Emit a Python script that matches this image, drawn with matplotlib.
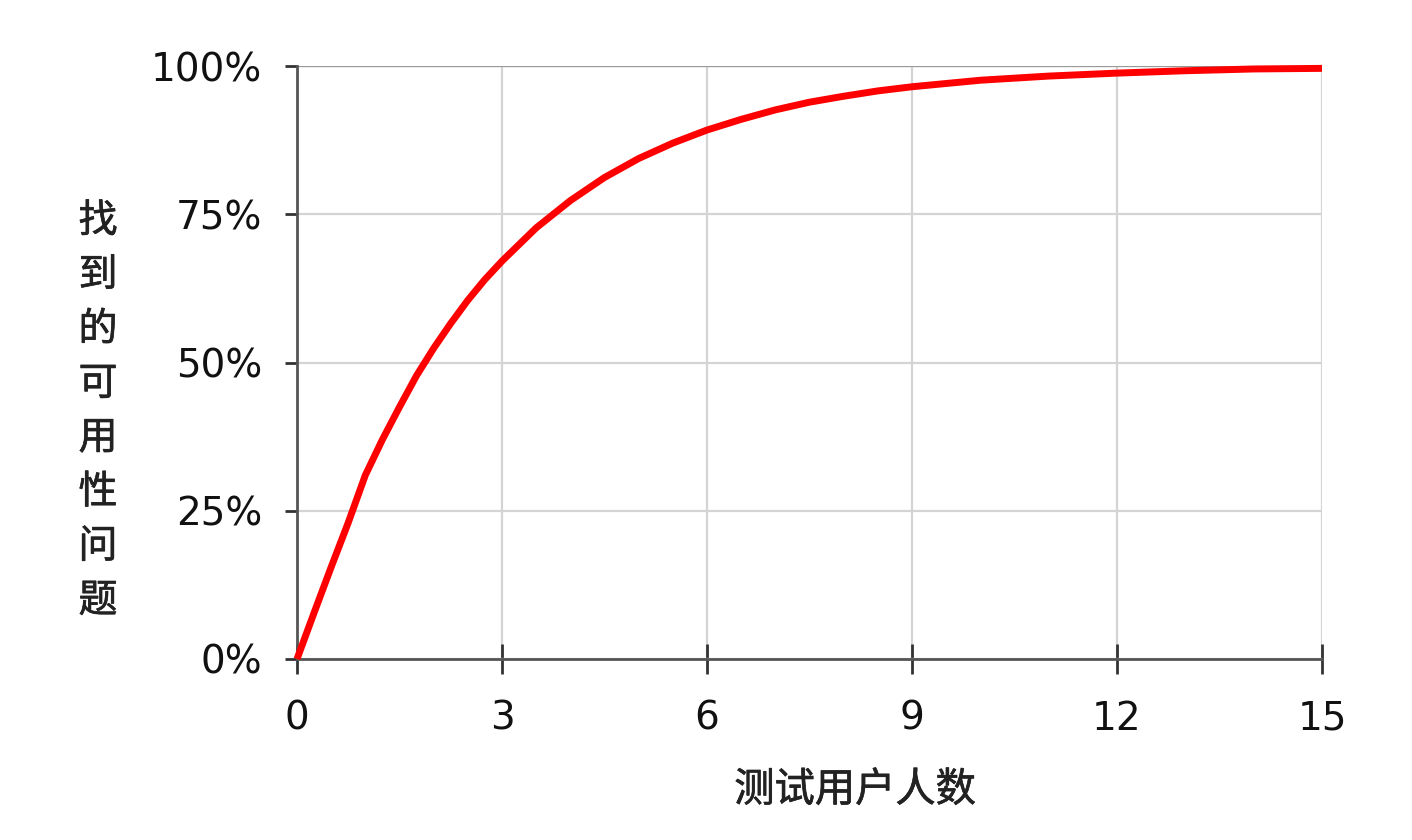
import matplotlib
matplotlib.use('Agg')
import matplotlib.pyplot as plt
import matplotlib.patheffects as pe

plt.rcParams['font.family'] = ['DejaVu Sans', 'Noto Sans CJK SC']

# 测试用户人数 vs 找到的可用性问题比例
users = [0, 0.25, 0.5, 0.75, 1, 1.25, 1.5, 1.75, 2, 2.25, 2.5, 2.75, 3, 3.5, 4, 4.5,
         5, 5.5, 6, 6.5, 7, 7.5, 8, 8.5, 9, 10, 11, 12, 13, 14, 15]
found = [0, 7.8, 15.5, 23, 31, 37, 42.5, 47.8, 52.4, 56.6, 60.5, 64, 67.1, 72.7, 77.3, 81.2,
         84.4, 87, 89.2, 91, 92.6, 93.9, 94.9, 95.8, 96.5, 97.6, 98.3, 98.8, 99.2, 99.5, 99.6]
x_ticks = [0, 3, 6, 9, 12, 15]
y_ticks = [0, 25, 50, 75, 100]
y_labels = ['0%', '25%', '50%', '75%', '100%']
x_title = '测试用户人数'
y_title = '找到的可用性问题'

fig = plt.figure(figsize=(14.12, 8.4), dpi=100)
ax = fig.add_axes([297 / 1412, 181 / 840, 1025 / 1412, 593 / 840])

ax.plot(users, found, color='#ff0000', lw=5, solid_capstyle='butt', solid_joinstyle='round',
        zorder=5, clip_on=False)

ax.set_xlim(0, 15)
ax.set_ylim(0, 100)
ax.set_xticks(x_ticks)
ax.set_yticks(y_ticks)
ax.set_yticklabels(y_labels)

ax.grid(True, color='#d4d4d4', lw=1.6)
ax.set_axisbelow(True)

for s in ['top', 'right']:
    ax.spines[s].set_visible(False)
for s in ['left', 'bottom']:
    ax.spines[s].set_color('#555555')
    ax.spines[s].set_linewidth(2)
ax.axhline(100, color='#999999', lw=1.6, zorder=1)

ax.tick_params(axis='x', direction='inout', length=21, width=2, color='#333333',
               labelsize=28, pad=19, labelcolor='#111111')
ax.tick_params(axis='y', direction='out', length=9, width=2, color='#333333',
               labelsize=28, pad=16, labelcolor='#111111')

# 中文标题稍加粗
thick = [pe.withStroke(linewidth=0.5, foreground='#222222')]
fig.text(98 / 1412, 1 - 411 / 840, '\n'.join(y_title), family='Noto Sans CJK SC',
         fontsize=28, color='#222222', ha='center', va='center',
         linespacing=1.46, path_effects=thick)
fig.text(855 / 1412, 1 - 790 / 840, x_title, family='Noto Sans CJK SC',
         fontsize=29, color='#222222', ha='center', va='center', path_effects=thick)

fig.savefig('out.png', dpi=100, facecolor='white')
